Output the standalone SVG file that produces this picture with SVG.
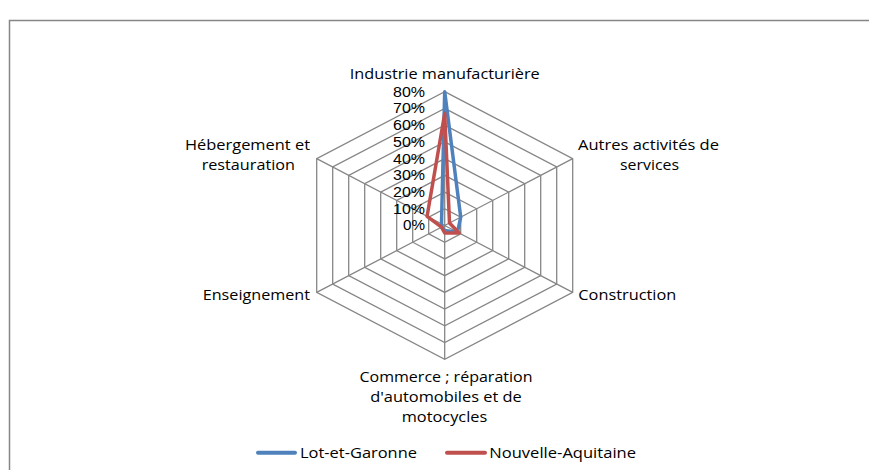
<svg xmlns="http://www.w3.org/2000/svg" width="869" height="470" viewBox="0 0 869 470">
<style>
  .bg { fill: #ffffff; }
  .frame { fill: none; stroke: #868686; stroke-width: 1.5; }
  .grid { fill: none; stroke: #868686; stroke-width: 1.3; }
  .lbl { font-family: "Open Sans", "Liberation Sans", sans-serif; font-size: 14.5px; fill: #000000; }
  .tick { font-family: "Liberation Sans", Arial, sans-serif; font-size: 14px; fill: #000000; text-anchor: end; }
  .mid { text-anchor: middle; }
  .s1 { fill: none; stroke: #4F81BD; stroke-width: 3.5; stroke-linejoin: round; }
  .s2 { fill: none; stroke: #C0504D; stroke-width: 3.5; stroke-linejoin: round; }
  .leg1 { stroke: #4F81BD; stroke-width: 4; stroke-linecap: round; }
  .leg2 { stroke: #C0504D; stroke-width: 4; stroke-linecap: round; }
</style>
<rect class="bg" x="0" y="0" width="869" height="470"/>
<rect class="frame" x="9.5" y="20.5" width="900" height="500"/>

<g id="grid" transform="translate(444.7,225.5)">
  <polygon class="grid" points="0,-16.73 16,-8.36 16,8.36 0,16.73 -16,8.36 -16,-8.36"/>
  <polygon class="grid" points="0,-33.45 32,-16.73 32,16.73 0,33.45 -32,16.73 -32,-16.73"/>
  <polygon class="grid" points="0,-50.18 48,-25.09 48,25.09 0,50.18 -48,25.09 -48,-25.09"/>
  <polygon class="grid" points="0,-66.9 64,-33.45 64,33.45 0,66.9 -64,33.45 -64,-33.45"/>
  <polygon class="grid" points="0,-83.63 80,-41.81 80,41.81 0,83.63 -80,41.81 -80,-41.81"/>
  <polygon class="grid" points="0,-100.35 96,-50.18 96,50.18 0,100.35 -96,50.18 -96,-50.18"/>
  <polygon class="grid" points="0,-117.08 112,-58.54 112,58.54 0,117.08 -112,58.54 -112,-58.54"/>
  <polygon class="grid" points="0,-133.8 128,-66.9 128,66.9 0,133.8 -128,66.9 -128,-66.9"/>
  <path class="grid" d="M0,0 L0,-133.8 M0,0 L128,-66.9 M0,0 L128,66.9 M0,0 L0,133.8 M0,0 L-128,66.9 M0,0 L-128,-66.9"/>
</g>

<g id="ticks">
  <text class="tick" x="425" y="96.6" textLength="32" lengthAdjust="spacingAndGlyphs">80%</text>
  <text class="tick" x="425" y="113.3" textLength="32" lengthAdjust="spacingAndGlyphs">70%</text>
  <text class="tick" x="425" y="130" textLength="32" lengthAdjust="spacingAndGlyphs">60%</text>
  <text class="tick" x="425" y="146.7" textLength="32" lengthAdjust="spacingAndGlyphs">50%</text>
  <text class="tick" x="425" y="163.5" textLength="32" lengthAdjust="spacingAndGlyphs">40%</text>
  <text class="tick" x="425" y="180.2" textLength="32" lengthAdjust="spacingAndGlyphs">30%</text>
  <text class="tick" x="425" y="196.9" textLength="32" lengthAdjust="spacingAndGlyphs">20%</text>
  <text class="tick" x="425" y="213.6" textLength="32" lengthAdjust="spacingAndGlyphs">10%</text>
  <text class="tick" x="425" y="230.3" textLength="22" lengthAdjust="spacingAndGlyphs">0%</text>
</g>

<g id="connectors" transform="translate(444.7,225.5)">
  <polygon id="series-lot-et-garonne" class="s1" points="0,-133.8 16,-8.36 12.8,6.69 0,5.02 -3.2,1.67 -3.2,-1.67"/>
  <polygon id="series-nouvelle-aquitaine" class="s2" points="0,-112.06 4.8,-2.51 14.4,7.53 0,7.53 -3.2,1.67 -17.6,-9.2"/>
</g>

<g id="axis-industrie">
  <text class="lbl mid" x="444.7" y="78.5" textLength="190" lengthAdjust="spacingAndGlyphs">Industrie manufacturière</text>
</g>
<g id="axis-autres">
  <text class="lbl mid" x="648.5" y="150" textLength="141" lengthAdjust="spacingAndGlyphs">Autres activités de</text>
  <text class="lbl mid" x="649.5" y="170" textLength="59" lengthAdjust="spacingAndGlyphs">services</text>
</g>
<g id="axis-construction">
  <text class="lbl" x="578.3" y="300" textLength="98" lengthAdjust="spacingAndGlyphs">Construction</text>
</g>
<g id="axis-commerce">
  <text class="lbl mid" x="446" y="381.7" textLength="173" lengthAdjust="spacingAndGlyphs">Commerce ; réparation</text>
  <text class="lbl mid" x="446" y="402" textLength="151.5" lengthAdjust="spacingAndGlyphs">d'automobiles et de</text>
  <text class="lbl mid" x="444.5" y="421.7" textLength="85.5" lengthAdjust="spacingAndGlyphs">motocycles</text>
</g>
<g id="axis-enseignement">
  <text class="lbl" x="202.7" y="300" textLength="107.3" lengthAdjust="spacingAndGlyphs">Enseignement</text>
</g>
<g id="axis-hebergement">
  <text class="lbl mid" x="247.5" y="150" textLength="125" lengthAdjust="spacingAndGlyphs">Hébergement et</text>
  <text class="lbl mid" x="248.3" y="170" textLength="93.3" lengthAdjust="spacingAndGlyphs">restauration</text>
</g>

<g id="legend">
  <g id="legend-lot-et-garonne">
    <line class="leg1" x1="258" y1="452.7" x2="295" y2="452.7"/>
    <text class="lbl" x="300" y="457.5" textLength="117" lengthAdjust="spacingAndGlyphs">Lot-et-Garonne</text>
  </g>
  <g id="legend-nouvelle-aquitaine">
    <line class="leg2" x1="447" y1="452.7" x2="485" y2="452.7"/>
    <text class="lbl" x="489.3" y="457.5" textLength="146.7" lengthAdjust="spacingAndGlyphs">Nouvelle-Aquitaine</text>
  </g>
</g>
</svg>
